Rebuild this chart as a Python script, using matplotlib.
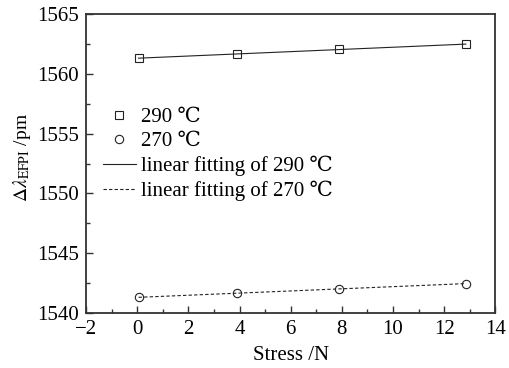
import matplotlib
matplotlib.use('Agg')
import matplotlib.pyplot as plt
import numpy as np
from matplotlib.ticker import MultipleLocator

plt.rcParams['font.family'] = ['Liberation Serif', 'DejaVu Serif']
plt.rcParams['mathtext.fontset'] = 'stix'

# Data
stress = [0.05, 3.9, 7.9, 12.85]
shift_290 = [1561.3, 1561.66, 1562.05, 1562.47]
shift_270 = [1541.31, 1541.67, 1542.06, 1542.45]

fig = plt.figure(figsize=(5.1, 3.68), dpi=100)
ax = fig.add_axes([0.169, 0.149, 0.802, 0.813])

ax.plot(stress, shift_290, 's', ms=5.5, mfc='none', mec='#222222', mew=0.8,
        label='290 ℃', zorder=3)
ax.plot(stress, shift_270, 'o', ms=6, mfc='none', mec='#222222', mew=0.8,
        label='270 ℃', zorder=3)

xs = np.array([stress[0], stress[-1]])
p1 = np.polyfit(stress, shift_290, 1)
p2 = np.polyfit(stress, shift_270, 1)
ax.plot(xs, np.polyval(p1, xs), '-', color='#222222', lw=0.8,
        label='linear fitting of 290 ℃')
ax.plot(xs, np.polyval(p2, xs), '--', color='#222222', lw=0.8,
        dashes=(3, 2), label='linear fitting of 270 ℃')

ax.set_xlim(-2, 14)
ax.set_ylim(1540, 1565)
ax.xaxis.set_major_locator(MultipleLocator(2))
ax.xaxis.set_minor_locator(MultipleLocator(1))
ax.yaxis.set_major_locator(MultipleLocator(5))
ax.yaxis.set_minor_locator(MultipleLocator(2.5))
ax.tick_params(which='both', direction='in', top=False, right=False,
               labelsize=15, width=1, color='#333333')
ax.tick_params(which='major', length=5, pad=5)
ax.tick_params(which='minor', length=3)
for s in ax.spines.values():
    s.set_linewidth(1.3)
    s.set_color('#333333')

ax.set_xlabel('Stress /N', fontsize=15, labelpad=5)
ax.set_ylabel(r'$\Delta\lambda_{\rm EFPI}$ /pm', fontsize=14)
ax.yaxis.set_label_coords(-0.13, 0.52)

ax.legend(loc='upper left', bbox_to_anchor=(0.01, 0.73), frameon=False,
          fontsize=15, handlelength=1.6, handletextpad=0.25,
          labelspacing=0.22, borderaxespad=0.2)

fig.savefig('out.png', dpi=100)
